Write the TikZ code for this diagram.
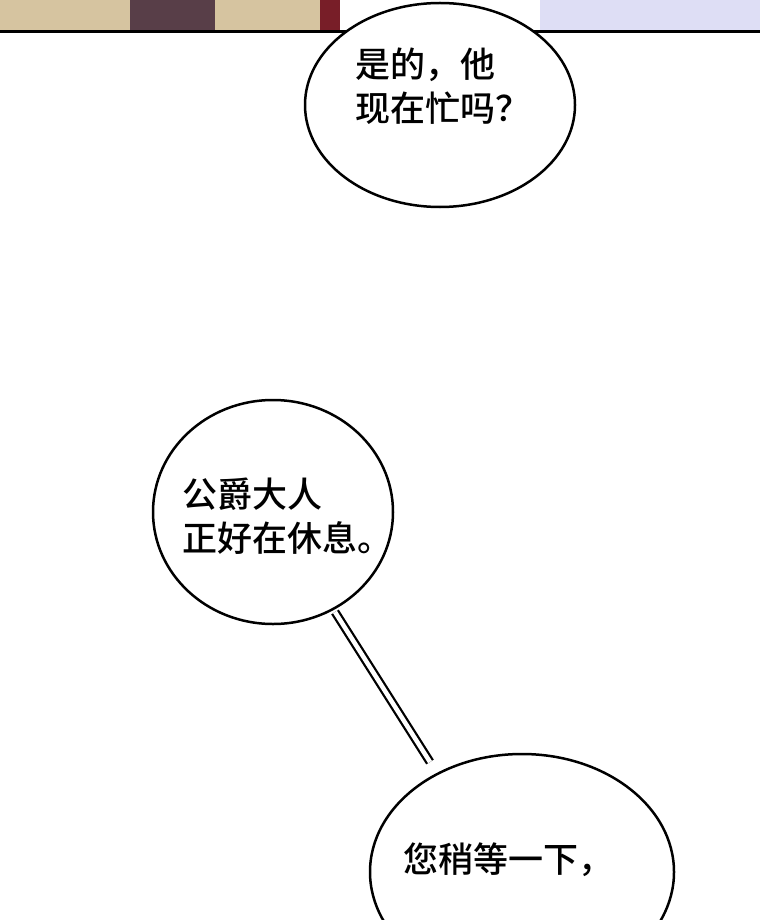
\documentclass[tikz,border=0pt]{standalone}
\usepackage{fontspec}
\newfontfamily\cjk{Noto Sans CJK SC Medium}
\usetikzlibrary{positioning}
\definecolor{wallbeige}{RGB}{214,196,160}
\definecolor{coatdark}{RGB}{88,62,72}
\definecolor{redcoat}{RGB}{120,30,40}
\definecolor{dresslav}{RGB}{222,222,245}
\tikzstyle{talk} = [font=\cjk\fontsize{35}{44}\selectfont,align=left,inner sep=0pt]
\begin{document}
\begin{tikzpicture}[x=1pt,y=-1pt]
    \useasboundingbox (0,0) rectangle (760,920);
    % top strip of the panel
    \fill [wallbeige] (0,0) rectangle (130,32);
    \fill [coatdark] (130,0) rectangle (215,32);
    \fill [wallbeige] (215,0) rectangle (320,32);
    \fill [redcoat] (320,0) rectangle (340,32);
    \fill [dresslav] (540,0) rectangle (760,32);
    \draw [line width=3pt] (0,32) -- (760,32);

    \draw [line width=2.5pt,fill=white] (440,105) ellipse [x radius=135,y radius=102];
    \node [talk,anchor=west] (t1) at (355,86) {是的，他\\现在忙吗？};

    % connector between the lower bubbles
    \coordinate (c1) at (335,612);
    \coordinate (c2) at (430,762);
    \draw [line width=9pt] (c1) -- (c2);
    \draw [line width=4.5pt,white] (c1) -- (c2);

    \draw [line width=2.5pt,fill=white] (273,512) ellipse [x radius=120,y radius=112];
    \node [talk,anchor=west] (t2) at (182,516) {公爵大人\\正好在休息。};

    \draw [line width=2.5pt,fill=white] (522,872) ellipse [x radius=152,y radius=118];
    \node [talk,anchor=west] (t3) at (403,860) {您稍等一下，};
\end{tikzpicture}
\end{document}
